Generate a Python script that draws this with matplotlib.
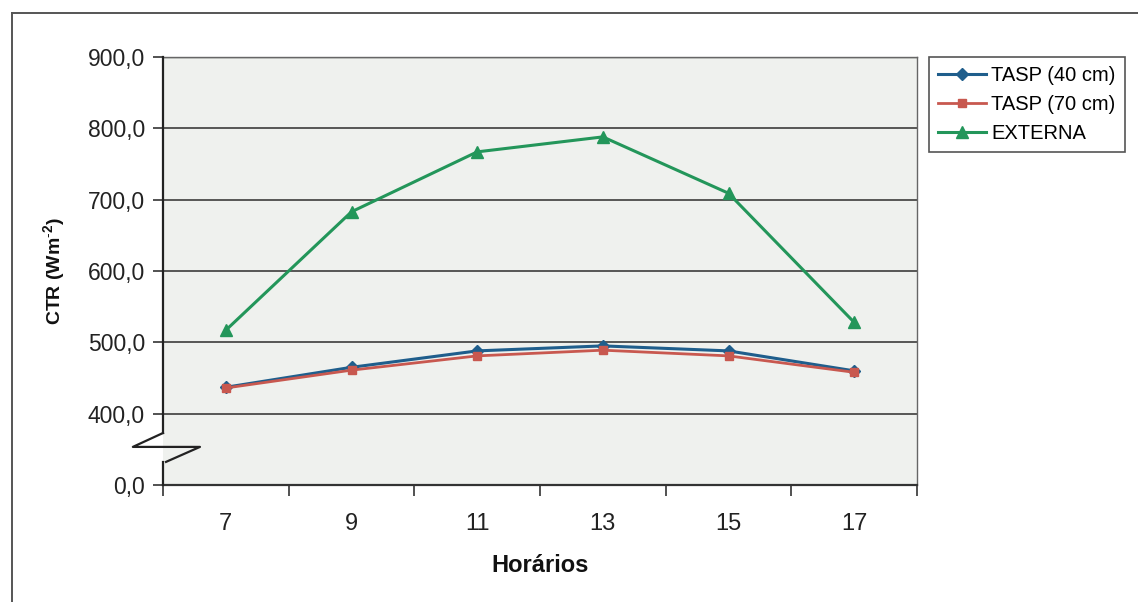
import matplotlib
matplotlib.use("Agg")
import matplotlib.pyplot as plt
from matplotlib.lines import Line2D

# Data
horarios = ["7", "9", "11", "13", "15", "17"]
tasp_40 = [437, 465, 488, 495, 488, 460]
tasp_70 = [436, 461, 481, 489, 481, 458]
externa = [517, 683, 767, 788, 709, 528]
series_names = ["TASP (40 cm)", "TASP (70 cm)", "EXTERNA"]

# y axis: the lowest tick stands for zero (broken axis)
y_ticks = [300, 400, 500, 600, 700, 800, 900]
y_tick_labels = ["0,0", "400,0", "500,0", "600,0", "700,0", "800,0", "900,0"]

plt.rcParams["font.family"] = ["Liberation Sans", "DejaVu Sans"]
plt.rcParams["mathtext.fontset"] = "custom"
plt.rcParams["mathtext.rm"] = "Liberation Sans"
plt.rcParams["mathtext.bf"] = "Liberation Sans:bold"

W, H = 1138, 602
fig = plt.figure(figsize=(W / 100, H / 100), dpi=100)
fig.patch.set_facecolor("white")

ax = fig.add_axes([163 / W, 1 - 485 / H, 754 / W, 428 / H])
ax.set_facecolor("#eff1ee")

x = list(range(len(horarios)))
c_blue = "#1f5e8c"
c_red = "#c8584f"
c_green = "#23965a"

ax.plot(x, tasp_40, color=c_blue, lw=2.2, marker="D", ms=6, label=series_names[0], zorder=4)
ax.plot(x, tasp_70, color=c_red, lw=2.0, marker="s", ms=5.5, label=series_names[1], zorder=5)
ax.plot(x, externa, color=c_green, lw=2.2, marker="^", ms=8, label=series_names[2], zorder=4)

ax.set_xlim(-0.5, len(horarios) - 0.5)
ax.set_ylim(300, 900)

# grid lines for the upper segment
for yv in y_ticks[1:-1]:
    ax.axhline(yv, color="#4a4a4a", lw=1.3, zorder=1)
ax.axhline(900, color="#4a4a4a", lw=1.0, zorder=1)

ax.set_yticks(y_ticks)
ax.set_yticklabels(y_tick_labels, fontsize=16.5, color="#222222")
ax.tick_params(axis="y", direction="out", length=7, width=1.2, color="#333333", pad=6)

ax.set_xticks(x)
ax.set_xticklabels(horarios, fontsize=17, color="#222222")
ax.tick_params(axis="x", which="major", length=0, pad=20)
ax.set_xticks([i - 0.5 for i in range(len(horarios) + 1)], minor=True)
ax.tick_params(axis="x", which="minor", direction="out", length=8, width=1.2, color="#333333")

for s in ["top", "right"]:
    ax.spines[s].set_color("#666666")
    ax.spines[s].set_linewidth(1.0)
ax.spines["bottom"].set_color("#333333")
ax.spines["bottom"].set_linewidth(1.6)
ax.spines["left"].set_visible(False)

# left spine with break symbol
kw = dict(transform=ax.transAxes, color="#222222", lw=1.6, clip_on=False, zorder=6)
ax.add_line(Line2D([0, 0], [0, 0.054], **kw))
ax.add_line(Line2D([0, 0], [0.1215, 1.0], **kw))
ax.add_line(Line2D([0.0, -0.040, 0.049, 0.004], [0.1215, 0.089, 0.089, 0.054], **kw))

ax.set_xlabel("Horários", fontsize=17, fontweight="bold", labelpad=14, color="#111111")
ax.set_ylabel(r"CTR (Wm$^{\mathbf{\text{-}2}}$)", fontsize=14, fontweight="bold",
              labelpad=14, color="#111111")

leg = ax.legend(loc="upper left", bbox_to_anchor=(929 / W, 1 - 57 / H),
                bbox_transform=fig.transFigure, frameon=True, fancybox=False,
                fontsize=14.5, handlelength=2.4, handletextpad=0.25,
                borderpad=0.45, labelspacing=0.5, borderaxespad=0)
leg.get_frame().set_edgecolor("#555555")
leg.get_frame().set_linewidth(1.2)
leg.get_frame().set_facecolor("white")
leg.get_frame().set_alpha(1.0)

# outer chart frame
fkw = dict(transform=fig.transFigure, color="#555555", lw=1.4)
fig.add_artist(Line2D([12 / W, 12 / W], [0, 1 - 13 / H], **fkw))
fig.add_artist(Line2D([12 / W, 1.0], [1 - 13 / H, 1 - 13 / H], **fkw))

fig.savefig("out.png", dpi=100)
